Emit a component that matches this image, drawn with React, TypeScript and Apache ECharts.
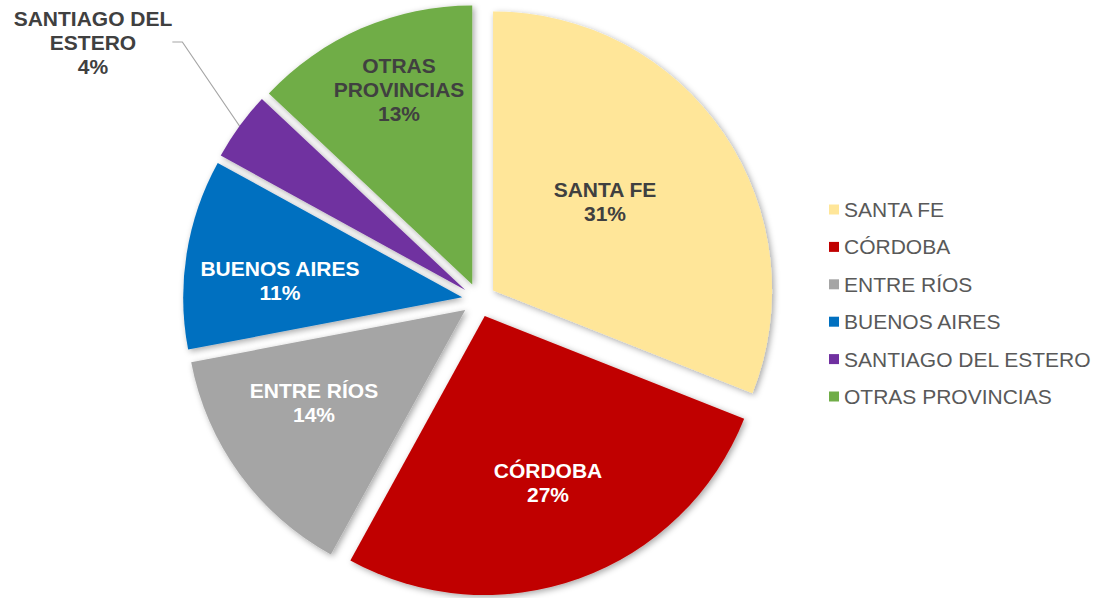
import React, { useEffect, useRef } from "react";
import * as echarts from "echarts";

const categories = [
  "SANTA FE",
  "CÓRDOBA",
  "ENTRE RÍOS",
  "BUENOS AIRES",
  "SANTIAGO DEL ESTERO",
  "OTRAS PROVINCIAS",
];
const values = [31, 27, 14, 11, 4, 13];
const labelNames = [
  "SANTA FE",
  "CÓRDOBA",
  "ENTRE RÍOS",
  "BUENOS AIRES",
  "SANTIAGO DEL\nESTERO",
  "OTRAS\nPROVINCIAS",
];

const colors = ["#FFE699", "#C00000", "#A5A5A5", "#0070C0", "#7030A0", "#70AD47"];
const labelColors = ["#404040", "#FFFFFF", "#FFFFFF", "#FFFFFF", "#404040", "#404040"];
const labelPos: [number, number][] = [
  [605, 201],
  [548, 482],
  [314, 402],
  [280, 280],
  [93, 42],
  [399, 89],
];

const CX = 479;
const CY = 300;
const R = 279;
const EXPLODE = 17;

export default function App() {
  const ref = useRef<HTMLDivElement>(null);
  useEffect(() => {
    document.body.style.margin = "0";
    const chart = echarts.init(ref.current!, undefined, { renderer: "svg" });
    const total = values.reduce((a, b) => a + b, 0);
    let cum = 0;
    const series = categories.map((name, i) => {
      const mid = ((cum + values[i] / 2) / total) * Math.PI * 2;
      cum += values[i];
      const center = [CX + EXPLODE * Math.sin(mid), CY - EXPLODE * Math.cos(mid)];
      return {
        type: "pie",
        name,
        center,
        radius: R,
        startAngle: 90,
        clockwise: true,
        avoidLabelOverlap: false,
        percentPrecision: 0,
        emphasis: { disabled: true },
        label: {
          show: false,
          position: "inside",
          fontFamily: "Liberation Sans",
          fontWeight: "bold",
          fontSize: 21,
          lineHeight: 24,
          align: "center",
          formatter: (p: any) => `${labelNames[p.dataIndex]}\n${p.percent}%`,
        },
        labelLine: { show: false },
        labelLayout: (p: any) =>
          p.dataIndex === i
            ? {
                x: labelPos[i][0],
                y: labelPos[i][1],
                align: "center",
                verticalAlign: "middle",
              }
            : {},
        data: categories.map((n, j) => {
          if (j !== i) {
            return {
              name: `_${j}`,
              value: values[j],
              itemStyle: { color: "rgba(0,0,0,0)", shadowColor: "rgba(0,0,0,0)", shadowBlur: 0 },
              label: { show: false },
              labelLine: { show: false },
            };
          }
          return {
            name: n,
            value: values[j],
            itemStyle: {
              color: colors[j],
              shadowBlur: 6,
              shadowOffsetX: 2,
              shadowOffsetY: 2,
              shadowColor: "rgba(0,0,0,0.35)",
            },
            label: {
              show: true,
              color: labelColors[j],
              position: j === 4 ? "outside" : "inside",
            },
            labelLine:
              j === 4
                ? { show: true, length: 20, length2: 10, lineStyle: { color: "#A6A6A6", width: 1.2 } }
                : { show: false },
          };
        }),
      };
    });
    chart.setOption({
      animation: false,
      color: colors,
      legend: {
        orient: "vertical",
        left: 824,
        top: 194,
        itemWidth: 10,
        itemHeight: 10,
        itemGap: 16.4,
        icon: "rect",
        selectedMode: false,
        textStyle: {
          fontFamily: "Liberation Sans",
          fontSize: 21,
          color: "#595959",
        },
        data: categories.map((name, i) => ({
          name,
          icon: "rect",
          itemStyle: { color: colors[i], borderWidth: 0 },
        })),
      },
      series,
    });
    return () => chart.dispose();
  }, []);
  return <div ref={ref} style={{ width: 1098, height: 598 }} />;
}
